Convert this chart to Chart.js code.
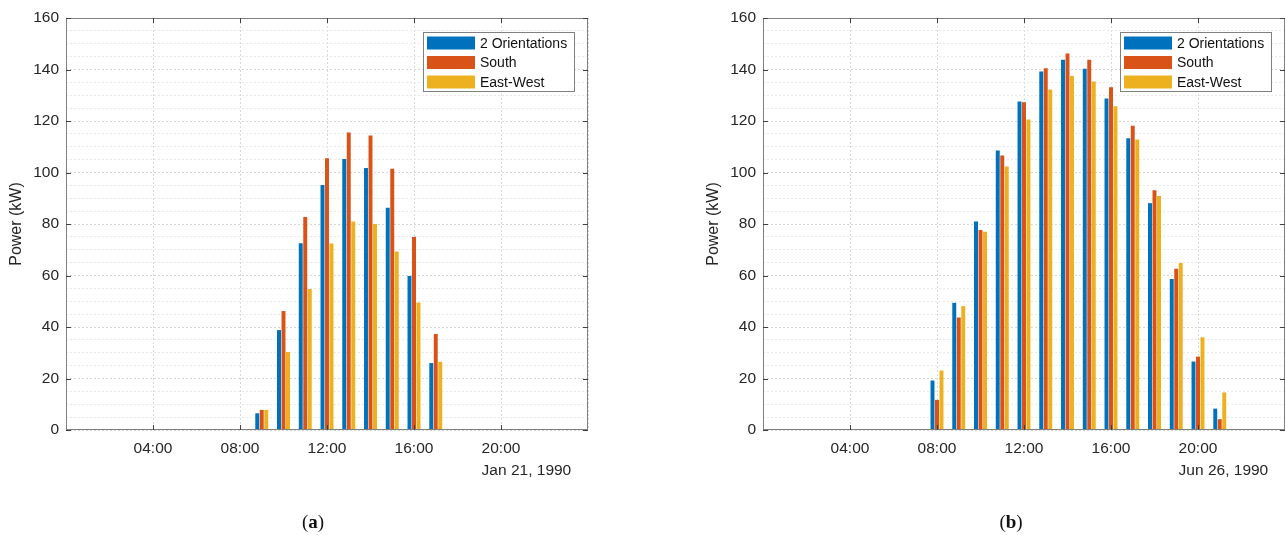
<!DOCTYPE html>
<html>
<head>
<meta charset="utf-8">
<script src="https://cdn.jsdelivr.net/npm/chart.js@4.4.1/dist/chart.umd.min.js"></script>
<style>
  body { margin: 0; background: #fff; }
  #wrap { position: relative; width: 1285px; height: 535px; overflow: hidden; }
  canvas { position: absolute; top: 0; }
  .cap { position: absolute; top: 511px; width: 60px; margin-left: -30px; text-align: center;
         font-family: "Liberation Serif", "DejaVu Serif", serif; font-size: 19px; color: #111; }
</style>
</head>
<body>
<div id="wrap">
  <canvas id="chartJan" width="600" height="535" style="left:0"></canvas>
  <canvas id="chartJun" width="600" height="535" style="left:697px"></canvas>
  <div class="cap" style="left:313px">(<b>a</b>)</div>
  <div class="cap" style="left:1011px">(<b>b</b>)</div>
</div>
<script>
// Data (power in kW, one value per hour)
const seriesLabels = ['2 Orientations', 'South', 'East-West'];
const seriesColors = ['#0072BD', '#D95319', '#EDB120'];

const janHours = [9, 10, 11, 12, 13, 14, 15, 16, 17];
const janTwoOrient = [6.5, 38.8, 72.5, 95.1, 105.2, 101.7, 86.3, 59.8, 26];
const janSouth = [7.8, 46.2, 82.7, 105.5, 115.5, 114.4, 101.5, 75, 37.3];
const janEastWest = [7.8, 30.3, 54.8, 72.4, 81, 80, 69.3, 49.5, 26.5];

const junHours = [8, 9, 10, 11, 12, 13, 14, 15, 16, 17, 18, 19, 20, 21];
const junTwoOrient = [19.2, 49.4, 81, 108.5, 127.6, 139.2, 143.8, 140.3, 128.7, 113.3, 88.1, 58.6, 26.6, 8.3];
const junSouth = [11.7, 43.7, 77.7, 106.6, 127.3, 140.5, 146.2, 143.8, 133.1, 118.2, 93.1, 62.6, 28.5, 4.2];
const junEastWest = [23.1, 48.1, 77, 102.3, 120.6, 132.2, 137.5, 135.3, 125.7, 112.8, 90.9, 64.9, 36, 14.6];

const hourTicks = [4, 8, 12, 16, 20];
const powerTicks = [0, 20, 40, 60, 80, 100, 120, 140, 160];

const FONT = '"Liberation Sans", Arial, Helvetica, sans-serif';
const TEXT = '#262626';
const BOX = '#808080';

const toPoints = (hours, vals) => hours.map((h, i) => ({ x: h, y: vals[i] }));
const hhmm = (h) => String(h).padStart(2, '0') + ':00';

// Axes box, inward ticks, legend and date label
const decor = (dateText) => ({
    id: 'decor',
    afterDraw(chart) {
        const { ctx, chartArea: a, scales: { x, y } } = chart;
        ctx.save();
        ctx.strokeStyle = BOX;
        ctx.lineWidth = 1;
        ctx.strokeRect(Math.round(a.left) + 0.5, Math.round(a.top) + 0.5,
            Math.round(a.right - a.left) - 1, Math.round(a.bottom - a.top) - 1);

        ctx.strokeStyle = '#404040';
        ctx.beginPath();
        hourTicks.forEach(h => {
            const px = Math.round(x.getPixelForValue(h)) + 0.5;
            ctx.moveTo(px, a.bottom); ctx.lineTo(px, a.bottom - 5);
            ctx.moveTo(px, a.top); ctx.lineTo(px, a.top + 5);
        });
        powerTicks.forEach(v => {
            const py = Math.round(y.getPixelForValue(v)) + 0.5;
            ctx.moveTo(a.left, py); ctx.lineTo(a.left + 5, py);
            ctx.moveTo(a.right, py); ctx.lineTo(a.right - 5, py);
        });
        ctx.stroke();

        // date under the last tick label
        ctx.font = '15.5px ' + FONT;
        ctx.fillStyle = TEXT;
        ctx.textBaseline = 'middle';
        ctx.textAlign = 'left';
        const lastX = x.getPixelForValue(20) - ctx.measureText('20:00').width / 2;
        ctx.fillText(dateText, lastX, 471);

        // legend inside the axes
        const lx = a.left + 357, ly = a.top + 13.5, lw = 151, lh = 59;
        ctx.fillStyle = '#fff';
        ctx.fillRect(lx, ly, lw, lh);
        ctx.strokeStyle = BOX;
        ctx.strokeRect(Math.round(lx) + 0.5, Math.round(ly) + 0.5, lw, lh);
        ctx.font = '14px ' + FONT;
        chart.data.datasets.forEach((ds, i) => {
            const cy = ly + 11.5 + i * 19.5;
            ctx.fillStyle = ds.backgroundColor;
            ctx.fillRect(lx + 4, cy - 6.5, 48, 13);
            ctx.fillStyle = '#111';
            ctx.fillText(ds.label, lx + 57, cy + 1);
        });
        ctx.restore();
    }
});

const makeChart = (id, hours, a, b, c, dateText) => {
    const vals = [a, b, c];
    return new Chart(document.getElementById(id), {
        type: 'bar',
        data: {
            datasets: seriesLabels.map((lbl, i) => ({
                label: lbl,
                data: toPoints(hours, vals[i]),
                backgroundColor: seriesColors[i],
                borderWidth: 0,
                categoryPercentage: 0.62,
                barPercentage: 0.88
            }))
        },
        options: {
            responsive: false,
            animation: false,
            devicePixelRatio: 1,
            layout: { padding: { top: 18, right: 12, left: 0, bottom: 0 } },
            plugins: { legend: { display: false }, tooltip: { enabled: false } },
            scales: {
                x: {
                    type: 'linear',
                    min: 0,
                    max: 24,
                    offset: false,
                    afterFit: (s) => { s.height = 105; },
                    ticks: {
                        stepSize: 4,
                        autoSkip: false,
                        maxRotation: 0,
                        padding: 9,
                        color: TEXT,
                        font: { family: FONT, size: 15.5 },
                        callback: (v) => hourTicks.includes(v) ? hhmm(v) : ''
                    },
                    grid: { color: '#dadada', drawTicks: false, offset: false },
                    border: { display: false, dash: [2, 2] }
                },
                y: {
                    min: 0,
                    max: 160,
                    afterFit: (s) => { s.width = 66; },
                    ticks: {
                        stepSize: 5,
                        autoSkip: false,
                        padding: 7,
                        color: TEXT,
                        font: { family: FONT, size: 15.5 },
                        callback: (v) => powerTicks.includes(v) ? String(v) : ''
                    },
                    grid: {
                        drawTicks: false,
                        color: (ctx) => (ctx.tick && ctx.tick.value % 20 === 0) ? '#d6d6d6' : '#e8e8e8'
                    },
                    border: { display: false, dash: [2, 2] },
                    title: {
                        display: true,
                        text: 'Power (kW)',
                        color: TEXT,
                        font: { family: FONT, size: 16 },
                        padding: { top: 7, bottom: 0 }
                    }
                }
            }
        },
        plugins: [decor(dateText)]
    });
};

makeChart('chartJan', janHours, janTwoOrient, janSouth, janEastWest, 'Jan 21, 1990');
makeChart('chartJun', junHours, junTwoOrient, junSouth, junEastWest, 'Jun 26, 1990');
</script>
</body>
</html>
